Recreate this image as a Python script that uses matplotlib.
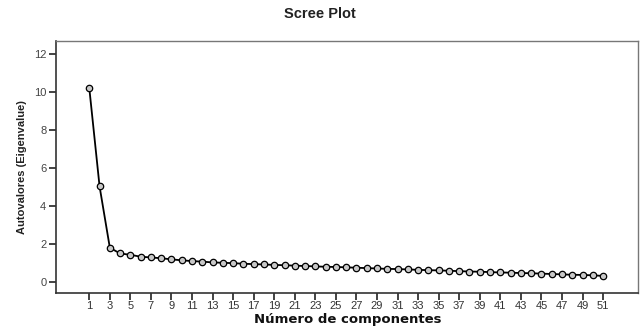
import matplotlib
matplotlib.use("Agg")
import matplotlib.pyplot as plt
from matplotlib import font_manager

components = list(range(1, 52))
eigenvalues = [10.20, 5.03, 1.80, 1.50, 1.43, 1.33, 1.29, 1.25, 1.19, 1.14,
               1.10, 1.07, 1.03, 1.01, 0.99, 0.96, 0.94, 0.92, 0.90, 0.88,
               0.86, 0.84, 0.82, 0.80, 0.79, 0.77, 0.75, 0.73, 0.71, 0.69,
               0.68, 0.66, 0.64, 0.62, 0.61, 0.59, 0.57, 0.55, 0.54, 0.52,
               0.50, 0.49, 0.47, 0.46, 0.44, 0.42, 0.40, 0.38, 0.37, 0.35,
               0.32]
xticks = list(range(1, 52, 2))
yticks = [0, 2, 4, 6, 8, 10, 12]

names = {f.name for f in font_manager.fontManager.ttflist}
narrow = 'Liberation Sans Narrow' if 'Liberation Sans Narrow' in names else 'Liberation Sans'
plt.rcParams['font.family'] = ['Liberation Sans', 'DejaVu Sans']

fig = plt.figure(figsize=(6.42, 3.28), dpi=100)
ax = fig.add_axes([56/642, 35/328, 582/642, 252/328])

ax.plot(components, eigenvalues, color='black', linewidth=1.3,
        marker='o', markersize=4.6, markerfacecolor='#c8c8c8',
        markeredgecolor='black', markeredgewidth=0.9, zorder=3)

ax.set_xlim(-2.24, 54.4)
ax.set_ylim(-0.58, 12.68)
ax.set_xticks(xticks)
ax.set_yticks(yticks)
ax.tick_params(axis='x', direction='out', length=5, width=1.2, color='#222222',
               labelsize=8, labelcolor='#333333', pad=1)
ax.tick_params(axis='y', direction='out', length=5, width=1.2, color='#222222',
               labelsize=8, labelcolor='#444444', pad=2)
for side in ['left', 'bottom']:
    ax.spines[side].set_color('#333333')
    ax.spines[side].set_linewidth(1.2)
for side in ['top', 'right']:
    ax.spines[side].set_color('#777777')
    ax.spines[side].set_linewidth(1.0)

fig.text(320/642, 1 - 14/328, 'Scree Plot', ha='center', va='center',
         fontsize=10.5, fontweight='bold', color='#222222')
fig.text(348/642, 1 - 320/328, 'Número de componentes', ha='center', va='center',
         fontsize=9.5, fontweight='bold', color='#111111', family='DejaVu Sans')
fig.text(22/642, 1 - 167/328, 'Autovalores (Eigenvalue)', ha='center', va='center',
         rotation=90, fontsize=8, fontweight='bold', color='#222222', family=narrow)

fig.savefig('out.png', dpi=100, facecolor='white')
